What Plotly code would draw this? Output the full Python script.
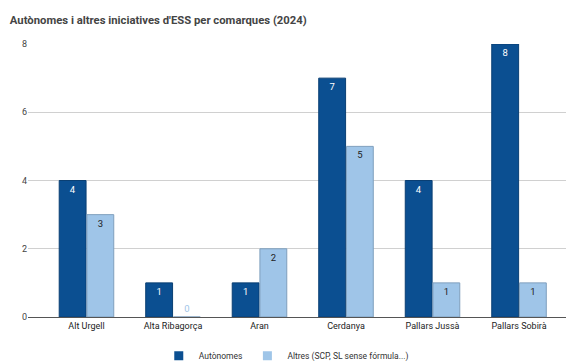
import plotly.graph_objects as go

categories = ["Alt Urgell", "Alta Ribagorça", "Aran", "Cerdanya", "Pallars Jussà", "Pallars Sobirà"]
autonomes = [4, 1, 1, 7, 4, 8]
altres = [3, 0, 2, 5, 1, 1]
series_names = ["Autònomes", "Altres (SCP, SL sense fórmula...)"]
y_ticks = [0, 2, 4, 6, 8]

dark = "#0b4f91"
light = "#9fc5e8"
dark_edge = "#0a3f73"
light_edge = "#7f9fbd"

fig = go.Figure()
fig.add_trace(go.Bar(
    x=categories, y=autonomes, name=series_names[0], showlegend=False,
    marker=dict(color=dark, line=dict(color=dark_edge, width=1)),
    text=[str(v) for v in autonomes],
    textposition=["inside" if v > 0 else "outside" for v in autonomes],
    insidetextanchor="end",
    textfont=dict(color="white", size=9.5, family="Roboto"),
    cliponaxis=False,
))
fig.add_trace(go.Bar(
    x=categories, y=altres, name=series_names[1], showlegend=False,
    marker=dict(color=light, line=dict(color=light_edge, width=1)),
    text=[str(v) for v in altres],
    textposition=["inside" if v > 0 else "outside" for v in altres],
    insidetextanchor="end",
    textfont=dict(color=["#222222" if v > 0 else light for v in altres], size=9.5, family="Roboto"),
    cliponaxis=False,
))
# legend entries with small square symbols
for name, col in zip(series_names, [dark, light]):
    fig.add_trace(go.Scatter(
        x=[None], y=[None], mode="markers", name=name,
        marker=dict(symbol="square", size=9, color=col),
    ))

fig.update_layout(
    width=576, height=363,
    margin=dict(l=28, r=10, t=44, b=46, autoexpand=False),
    paper_bgcolor="white", plot_bgcolor="white",
    font=dict(family="Roboto", size=9, color="#444444"),
    title=dict(text="<b>Autònomes i altres iniciatives d'ESS per comarques (2024)</b>",
               x=0.017, xanchor="left", y=0.945, yanchor="middle",
               font=dict(size=11.3, color="#444444", family="Roboto")),
    barmode="group", bargap=0.36, bargroupgap=0.03,
    uniformtext=dict(mode="show", minsize=8),
    legend=dict(orientation="h", xref="container", x=0.497, xanchor="center",
                yref="container", y=0.02, yanchor="middle", itemwidth=30,
                font=dict(size=8.5, color="#333333")),
    showlegend=True,
)
fig.update_yaxes(range=[0, 8], tickvals=y_ticks, showgrid=True, gridcolor="#d0d0d0",
                 zeroline=False, showline=False, ticks="", automargin=False,
                 tickfont=dict(size=9, color="#444444"))
fig.update_xaxes(range=[-0.676, 5.543], showline=True, linecolor="#555555", linewidth=1,
                 ticks="", automargin=False,
                 tickfont=dict(size=9, color="#222222"))

fig.write_html("out.html", config={"displayModeBar": False},
               post_script="document.body.style.margin='0';")
